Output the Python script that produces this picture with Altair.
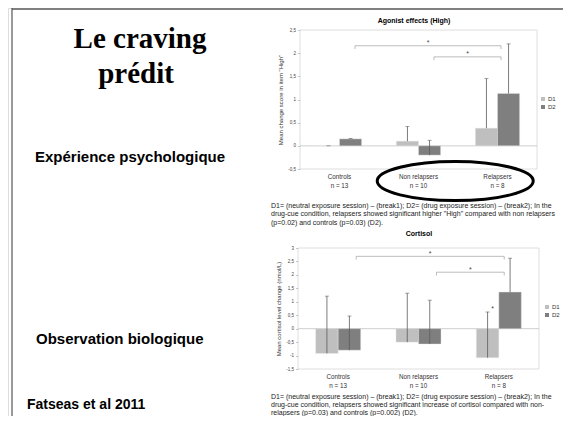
import altair as alt
import pandas as pd

# ---------------- data ----------------
categories = ["Controls", "Non relapsers", "Relapsers"]
group_sizes = ["n = 13", "n = 10", "n = 8"]
series = ["D1", "D2"]
bar_colors = ["#bfbfbf", "#7f7f7f"]

# Agonist effects (High)
high_d1 = [0.00, 0.10, 0.38]
high_d2 = [0.15, -0.20, 1.13]
high_d1_top = [0.00, 0.42, 1.45]
high_d2_top = [0.16, 0.12, 2.20]
high_ticks = [-0.5, 0, 0.5, 1, 1.5, 2, 2.5]
high_br_from = ["Controls", "Non relapsers"]
high_br_to = ["Relapsers", "Relapsers"]
high_br_level = [2.16, 1.92]

# Cortisol
cort_d1 = [-0.92, -0.50, -1.08]
cort_d2 = [-0.80, -0.57, 1.36]
cort_d1_top = [1.21, 1.32, 0.62]
cort_d2_top = [0.47, 1.06, 2.62]
cort_ticks = [-1.5, -1, -0.5, 0, 0.5, 1, 1.5, 2, 2.5, 3]
cort_br_from = ["Controls", "Non relapsers"]
cort_br_to = ["Relapsers", "Relapsers"]
cort_br_level = [2.69, 2.10]

caption_high = ("D1= (neutral exposure session) \u2013 (break1); D2= (drug exposure session) \u2013 (break2); In the\n"
                "drug-cue condition, relapsers showed significant higher \"High\" compared with non relapsers\n"
                "(p=0.02) and controls (p=0.03) (D2).")
caption_cort = ("D1= (neutral exposure session) \u2013 (break1); D2= (drug exposure session) \u2013 (break2); In the\n"
                "drug-cue condition, relapsers showed significant increase of cortisol compared with non-\n"
                "relapsers (p=0.03) and controls (p=0.002) (D2).")

W, H = 555, 408
PAD_IN, PAD_OUT = 0.44, 0.22
FONT = "Liberation Sans"
labels = [f"{c}|{n}" for c, n in zip(categories, group_sizes)]
lab = dict(zip(categories, labels))

ELLIPSE = "M -1 0 A 1 0.25 0 1 1 1 0 A 1 0.25 0 1 1 -1 0 Z"


def make_panel(d1, d2, t1, t2, ydom, yticks, x0, x1, ytop, ybot, ytitle,
               legend_xy, br_from, br_to, br_level, bp_from, bp_to, br_tick,
               star_on_d1=None, ellipse=None):
    df = pd.DataFrame({
        "label": labels * 2,
        "series": [series[0]] * 3 + [series[1]] * 3,
        "value": d1 + d2,
        "top": t1 + t2,
    })
    n = len(categories)
    step = (x1 - x0) / (n - PAD_IN + 2 * PAD_OUT)
    bw = step * (1 - PAD_IN)
    ratio = step / bw

    def locate(cat, bp):
        """express a position (category, band fraction possibly >1) as label, bp in [0,1], px offset"""
        u = categories.index(cat) * ratio + bp
        best = None
        for k in range(n):
            rel = u - k * ratio
            cl = min(max(rel, 0.0), 1.0)
            d = abs(rel - cl)
            if best is None or d < best[0]:
                best = (d, k, cl, (rel - cl) * bw)
        return labels[best[1]], best[2], best[3]

    xs = alt.Scale(domain=labels, range=[x0, x1], paddingInner=PAD_IN, paddingOuter=PAD_OUT)
    ys = alt.Scale(domain=ydom, range=[ybot, ytop], nice=False, zero=False)
    x_axis = alt.Axis(orient="bottom", offset=-(H - ybot), labelExpr="split(datum.label, '|')",
                      labelAngle=0, labelFontSize=6.3, labelColor="#333333", labelLineHeight=9,
                      labelPadding=4, labelBaseline="top", labelOverlap=False, labelFont=FONT,
                      ticks=False, domain=False, grid=False, title=None)
    y_axis = alt.Axis(orient="left", offset=-x0, values=yticks,
                      labelExpr="replace(replace(format(datum.value, '~g'), '.', ','), '\u2212', '-')",
                      labelFontSize=4.5,
                      labelColor="#444444", labelPadding=2, labelFont=FONT,
                      tickSize=2.5, tickColor="#9a9a9a", tickWidth=0.6,
                      domain=False, grid=False, title=ytitle, titleFontSize=6,
                      titleFontWeight="normal", titleColor="#333333", titleFont=FONT,
                      titleX=-20, titleY=(ytop + ybot) / 2, titleAlign="center",
                      titleBaseline="middle", titleAngle=270)

    def X(field="label", **kw):
        return alt.X(f"{field}:N", scale=xs, axis=x_axis, sort=labels, **kw)

    def Y(field="value"):
        return alt.Y(f"{field}:Q", scale=ys, axis=y_axis)

    XO = alt.XOffset("series:N", scale=alt.Scale(domain=series, paddingInner=0, paddingOuter=0))

    zero_df = pd.DataFrame({"value": [0.0]})
    frame = alt.Chart(zero_df).mark_rect(fillOpacity=0, stroke="#d6d6d6", strokeWidth=0.8).encode(
        x=alt.value(x0), x2=alt.value(x1), y=alt.value(ytop), y2=alt.value(ybot))
    zero = alt.Chart(zero_df).mark_rule(color="#c4c4c4", strokeWidth=0.8).encode(
        x=alt.value(x0), x2=alt.value(x1), y=Y())

    bars = alt.Chart(df).mark_bar(stroke="#e6e6e6", strokeWidth=0.4).encode(
        x=X(), xOffset=XO, y=Y(),
        color=alt.Color("series:N", scale=alt.Scale(domain=series, range=bar_colors),
                        legend=alt.Legend(orient="none", legendX=legend_xy[0], legendY=legend_xy[1],
                                          title=None, symbolType="square", symbolSize=16,
                                          symbolStrokeWidth=0, labelFontSize=6, labelFont=FONT,
                                          labelColor="#333333", labelOffset=2, rowPadding=2)))
    err = alt.Chart(df).mark_rule(color="#5a5a5a", strokeWidth=0.8).encode(
        x=X(), xOffset=XO, y=Y(), y2="top:Q")
    caps = alt.Chart(df).mark_tick(orient="horizontal", size=4, thickness=0.8, color="#5a5a5a").encode(
        x=X(), xOffset=XO, y=Y("top"))

    layers = [frame, zero, bars, err, caps]

    style = dict(color="#a0a0a0", strokeWidth=0.7)
    for f, t, lvl in zip(br_from, br_to, br_level):
        la, ba, oa = locate(f, bp_from)
        lb, bb, ob = locate(t, bp_to)
        gap = categories.index(t) - categories.index(f)
        lm, bm, om = locate(f, (bp_from + bp_to + gap * ratio) / 2)
        bd = pd.DataFrame({"label": [la], "label2": [lb], "labelm": [lm], "value": [lvl],
                           "value2": [lvl - br_tick]})
        layers.append(alt.Chart(bd).mark_rule(xOffset=oa, x2Offset=ob, **style).encode(
            x=X(bandPosition=ba), x2=alt.X2("label2:N", bandPosition=bb), y=Y()))
        layers.append(alt.Chart(bd).mark_rule(xOffset=oa, **style).encode(
            x=X(bandPosition=ba), y=Y(), y2="value2:Q"))
        layers.append(alt.Chart(bd).mark_rule(xOffset=ob, **style).encode(
            x=X("label2", bandPosition=bb), y=Y(), y2="value2:Q"))
        layers.append(alt.Chart(bd).mark_text(text="*", fontSize=7, color="#444444",
                                              baseline="alphabetic", dx=om, dy=-0.5).encode(
            x=X("labelm", bandPosition=bm), y=Y()))

    if star_on_d1 is not None:
        i = categories.index(star_on_d1)
        sd = pd.DataFrame({"label": [labels[i]], "series": ["D1"], "value": [t1[i]]})
        layers.append(alt.Chart(sd).mark_text(text="*", fontSize=7, color="#444444",
                                              baseline="alphabetic", dx=5, dy=-0.5).encode(
            x=X(), xOffset=XO, y=Y()))

    if ellipse is not None:
        le, be, oe = locate(ellipse[0], ellipse[1])
        ed = pd.DataFrame({"label": [le], "value": [ellipse[2]]})
        layers.append(alt.Chart(ed).mark_point(shape=ELLIPSE, size=24336, filled=False,
                                               color="black", strokeWidth=3, opacity=1,
                                               xOffset=oe).encode(
            x=X(bandPosition=be), y=Y()))

    return alt.layer(*layers)


top_panel = make_panel(high_d1, high_d2, high_d1_top, high_d2_top, [-0.5, 2.5], high_ticks,
                       292, 529, 22, 161, "Mean change score in item \"High\"", (532, 88),
                       high_br_from, high_br_to, high_br_level, 0.85, 0.58, 0.07,
                       ellipse=("Non relapsers", 1.33, -0.76))
bottom_panel = make_panel(cort_d1, cort_d2, cort_d1_top, cort_d2_top, [-1.5, 3], cort_ticks,
                          290, 531, 240, 361, "Mean cortisol level change (nmol/L)", (536, 296),
                          cort_br_from, cort_br_to, cort_br_level, 0.9, 0.62, 0.12,
                          star_on_d1="Relapsers")

one = pd.DataFrame({"a": [0]})


def txt(s, x, y, size, weight="bold", font=FONT, align="left", baseline="alphabetic",
        color="black", line_height=None):
    kw = dict(text=s, fontSize=size, fontWeight=weight, font=font, align=align,
              baseline=baseline, color=color)
    if line_height is not None:
        kw["lineBreak"] = "\n"
        kw["lineHeight"] = line_height
    return alt.Chart(one).mark_text(**kw).encode(x=alt.value(x), y=alt.value(y))


deco = [
    alt.Chart(one).mark_rule(color="#808080", strokeWidth=2.2).encode(
        x=alt.value(4), x2=alt.value(W), y=alt.value(1)),
    alt.Chart(one).mark_rule(color="#555555", strokeWidth=1.2).encode(
        x=alt.value(4), y=alt.value(0), y2=alt.value(H)),
    txt("Le craving", 132, 40, 29, font="Liberation Serif", align="center"),
    txt("pr\u00e9dit", 128, 75, 29, font="Liberation Serif", align="center"),
    txt("Exp\u00e9rience psychologique", 27, 154, 15),
    txt("Observation biologique", 28, 336, 15),
    txt("Fatseas et al 2011", 19, 401, 14),
    txt("Agonist effects (High)", 406, 15, 7, align="center"),
    txt("Cortisol", 411, 228, 7, align="center"),
    txt(caption_high, 263, 200, 7, weight="normal", color="#222222", line_height=8.4),
    txt(caption_cort, 263, 391, 7, weight="normal", color="#222222", line_height=8.1),
]

chart = alt.layer(*deco, top_panel, bottom_panel).resolve_scale(
    x="independent", y="independent", xOffset="independent", color="independent"
).resolve_axis(x="independent", y="independent").resolve_legend(color="independent").properties(
    width=W, height=H, autosize=alt.AutoSizeParams(type="none"), padding=0, background="white"
).configure_view(stroke=None).configure(font=FONT)

chart.save("out.html", embed_options={"renderer": "svg", "actions": False})
